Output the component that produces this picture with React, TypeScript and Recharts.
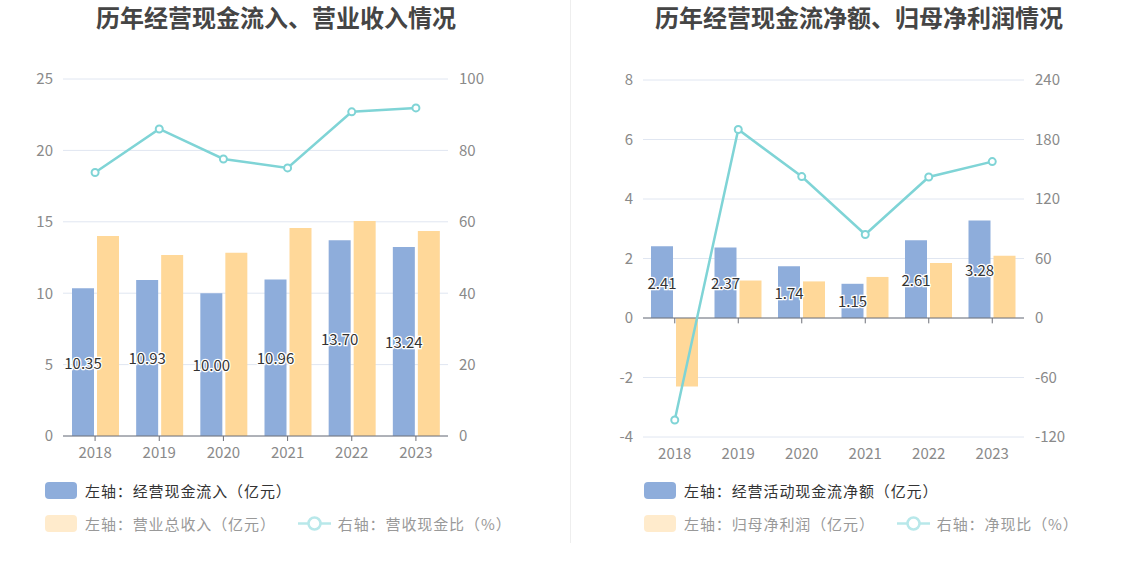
import React from "react";
import {
  ComposedChart,
  Bar,
  Line,
  XAxis,
  YAxis,
  CartesianGrid,
  LabelList,
  ReferenceLine,
} from "recharts";

const years = ["2018", "2019", "2020", "2021", "2022", "2023"];

// Left chart
const cashInflow = [10.35, 10.93, 10.0, 10.96, 13.7, 13.24];
const revenue = [14.0, 12.67, 12.83, 14.56, 15.06, 14.36];
const cashRatio = [73.8, 86.0, 77.6, 75.1, 90.8, 91.9];
const leftTicksL = [0, 5, 10, 15, 20, 25];
const leftTicksR = [0, 20, 40, 60, 80, 100];

// Right chart
const netCashFlow = [2.41, 2.37, 1.74, 1.15, 2.61, 3.28];
const netProfit = [-2.3, 1.26, 1.23, 1.38, 1.85, 2.09];
const netRatio = [-102.8, 190.1, 142.6, 84.2, 142.2, 157.7];
const rightTicksL = [-4, -2, 0, 2, 4, 6, 8];
const rightTicksR = [-120, -60, 0, 60, 120, 180, 240];

const leftData = years.map((y, i) => ({
  year: y,
  a: cashInflow[i],
  b: revenue[i],
  r: cashRatio[i],
}));
const rightData = years.map((y, i) => ({
  year: y,
  a: netCashFlow[i],
  b: netProfit[i],
  r: netRatio[i],
}));

const BLUE = "#8EADDB";
const ORANGE = "#FFD899";
const TEAL = "#7FD4D6";
const FONT = "'Noto Sans CJK SC', 'Noto Sans', sans-serif";
const AXIS_TEXT = { fill: "#8a8a8a", fontSize: 15, fontFamily: FONT };

const renderLabel = (props: any) => {
  const { x, y, width, height, value } = props;
  return (
    <text
      x={x + width / 2}
      y={y + height / 2}
      textAnchor="middle"
      dominantBaseline="central"
      fontSize={15}
      fontFamily={FONT}
      fill="#333"
      stroke="#fff"
      strokeWidth={2.5}
      paintOrder="stroke"
    >
      {Number(value).toFixed(2)}
    </text>
  );
};

const dotStyle = { r: 3.5, fill: "#fff", stroke: TEAL, strokeWidth: 2 };

function LegendBox({ color }: { color: string }) {
  return (
    <span
      style={{
        display: "inline-block",
        width: 32,
        height: 17,
        borderRadius: 4,
        background: color,
        marginRight: 8,
      }}
    />
  );
}

function LegendLine() {
  return (
    <svg width={33} height={17} style={{ marginRight: 7 }}>
      <line x1={0} y1={8.5} x2={33} y2={8.5} stroke="#B8E8EA" strokeWidth={2.5} />
      <circle cx={16.5} cy={8.5} r={6} fill="#fff" stroke="#B8E8EA" strokeWidth={2.5} />
    </svg>
  );
}

function Legend({
  left,
  first,
  second,
  third,
}: {
  left: number;
  first: string;
  second: string;
  third: string;
}) {
  const row: React.CSSProperties = {
    position: "absolute",
    left,
    display: "flex",
    alignItems: "center",
    fontSize: 15,
    letterSpacing: 0.9,
    fontFamily: FONT,
    whiteSpace: "nowrap",
    height: 18,
  };
  return (
    <>
      <div style={{ ...row, top: 481, color: "#333" }}>
        <LegendBox color={BLUE} />
        <span>{first}</span>
      </div>
      <div style={{ ...row, top: 514, color: "#999" }}>
        <LegendBox color="#FFEBCC" />
        <span style={{ marginRight: 22 }}>{second}</span>
        <LegendLine />
        <span>{third}</span>
      </div>
    </>
  );
}

const titleStyle: React.CSSProperties = {
  position: "absolute",
  top: 2,
  fontSize: 24,
  fontWeight: 700,
  color: "#454545",
  fontFamily: FONT,
  whiteSpace: "nowrap",
  transform: "translateX(-50%)",
  lineHeight: "30px",
};

export default function App() {
  return (
    <div
      style={{
        position: "fixed",
        left: 0,
        top: 0,
        width: 1134,
        height: 582,
        background: "#fff",
        overflow: "hidden",
      }}
    >
      <div style={{ ...titleStyle, left: 276 }}>历年经营现金流入、营业收入情况</div>
      <div style={{ ...titleStyle, left: 859 }}>历年经营现金流净额、归母净利润情况</div>
      <div
        style={{
          position: "absolute",
          left: 570,
          top: 0,
          width: 1,
          height: 543,
          background: "#EEEEEE",
        }}
      />

      <div style={{ position: "absolute", left: 0, top: 0 }}>
        <ComposedChart
          width={570}
          height={582}
          data={leftData}
          margin={{ top: 79, right: 0, bottom: 116, left: 0 }}
          barSize={22}
          barGap={3}
        >
          <CartesianGrid vertical={false} stroke="#E0E6F1" yAxisId="left" />
          <XAxis
            dataKey="year"
            height={30}
            tick={AXIS_TEXT}
            tickSize={5}
            tickMargin={6}
            axisLine={{ stroke: "#6E7079" }}
            tickLine={{ stroke: "#6E7079" }}
          />
          <YAxis
            yAxisId="left"
            width={63}
            domain={[0, 25]}
            ticks={leftTicksL}
            tick={AXIS_TEXT}
            axisLine={false}
            tickLine={false}
            tickSize={0}
            tickMargin={10}
          />
          <YAxis
            yAxisId="right"
            orientation="right"
            width={122}
            domain={[0, 100]}
            ticks={leftTicksR}
            tick={{ ...AXIS_TEXT, textAnchor: "start" }}
            axisLine={false}
            tickLine={false}
            tickSize={0}
            tickMargin={11}
          />
          <Bar yAxisId="left" dataKey="a" fill={BLUE} isAnimationActive={false}>
            <LabelList dataKey="a" content={renderLabel} />
          </Bar>
          <Bar yAxisId="left" dataKey="b" fill={ORANGE} isAnimationActive={false} />
          <Line
            yAxisId="right"
            dataKey="r"
            stroke={TEAL}
            strokeWidth={2.5}
            dot={dotStyle}
            activeDot={false}
            isAnimationActive={false}
          />
        </ComposedChart>
      </div>

      <div style={{ position: "absolute", left: 570, top: 0 }}>
        <ComposedChart
          width={564}
          height={582}
          data={rightData}
          margin={{ top: 80, right: 0, bottom: 115, left: 0 }}
          barSize={22}
          barGap={3}
        >
          <CartesianGrid vertical={false} stroke="#E0E6F1" yAxisId="left" />
          <XAxis
            dataKey="year"
            height={30}
            tick={AXIS_TEXT}
            tickSize={0}
            tickMargin={11}
            axisLine={false}
            tickLine={false}
          />
          <YAxis
            yAxisId="left"
            width={73}
            domain={[-4, 8]}
            ticks={rightTicksL}
            tick={AXIS_TEXT}
            axisLine={false}
            tickLine={false}
            tickSize={0}
            tickMargin={10}
          />
          <YAxis
            yAxisId="right"
            orientation="right"
            width={110}
            domain={[-120, 240]}
            ticks={rightTicksR}
            tick={{ ...AXIS_TEXT, textAnchor: "start" }}
            axisLine={false}
            tickLine={false}
            tickSize={0}
            tickMargin={11}
          />
          <Bar yAxisId="left" dataKey="a" fill={BLUE} isAnimationActive={false}>
            <LabelList dataKey="a" content={renderLabel} />
          </Bar>
          <Bar yAxisId="left" dataKey="b" fill={ORANGE} isAnimationActive={false} />
          <ReferenceLine yAxisId="left" y={0} stroke="#6E7079" strokeWidth={1} />
          {years.map((yr) => (
            <ReferenceLine
              key={yr}
              yAxisId="left"
              segment={[
                { x: yr, y: 0 },
                { x: yr, y: -0.18 },
              ]}
              stroke="#6E7079"
            />
          ))}
          <Line
            yAxisId="right"
            dataKey="r"
            stroke={TEAL}
            strokeWidth={2.5}
            dot={dotStyle}
            activeDot={false}
            isAnimationActive={false}
          />
        </ComposedChart>
      </div>

      <Legend
        left={45}
        first="左轴：经营现金流入（亿元）"
        second="左轴：营业总收入（亿元）"
        third="右轴：营收现金比（%）"
      />
      <Legend
        left={644}
        first="左轴：经营活动现金流净额（亿元）"
        second="左轴：归母净利润（亿元）"
        third="右轴：净现比（%）"
      />
    </div>
  );
}
